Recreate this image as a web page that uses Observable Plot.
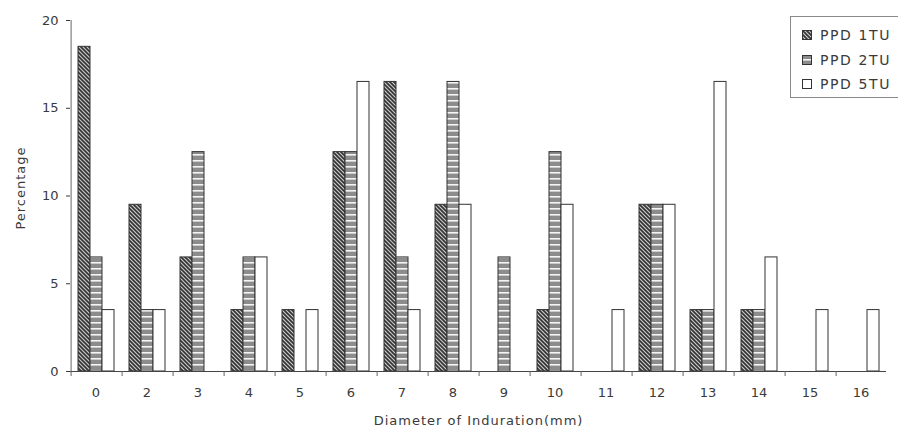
<!DOCTYPE html>
<html><head><meta charset="utf-8">
<script src="https://cdn.jsdelivr.net/npm/d3@7"></script>
<script src="https://cdn.jsdelivr.net/npm/@observablehq/plot@0.6"></script>
<style>
body{margin:0;background:#fff;font-family:"DejaVu Sans",Arial,sans-serif}
#wrap{position:relative;width:898px;height:431px;overflow:hidden}
#legend{position:absolute;left:790px;top:16px;width:130px;height:80px;border:1px solid #8a8a8a;background:#fff;color:#3a3a3a;font-size:14px;letter-spacing:1.6px}
.row{position:absolute;left:11px;height:16px;line-height:16px;white-space:nowrap}
.row svg{vertical-align:middle;margin-right:8px;position:relative;top:-1px}
</style></head><body>
<div id="wrap"></div>
<script>
const categories = ["0","2","3","4","5","6","7","8","9","10","11","12","13","14","15","16"];
const seriesNames = ["PPD 1TU","PPD 2TU","PPD 5TU"];
const ppd1TU = [18.5, 9.5, 6.5, 3.5, 3.5, 12.5, 16.5, 9.5, 0, 3.5, 0, 9.5, 3.5, 3.5, 0, 0];
const ppd2TU = [6.5, 3.5, 12.5, 6.5, 0, 12.5, 6.5, 16.5, 6.5, 12.5, 0, 9.5, 3.5, 3.5, 0, 0];
const ppd5TU = [3.5, 3.5, 0, 6.5, 3.5, 16.5, 3.5, 9.5, 0, 9.5, 3.5, 9.5, 16.5, 6.5, 3.5, 3.5];
const yTicks = [0, 5, 10, 15, 20];

const seriesValues = [ppd1TU, ppd2TU, ppd5TU];
const fills = ["url(#pat1)", "url(#pat2)", "#ffffff"];
const data = categories.flatMap((c, i) => seriesNames.map((s, k) => ({cat: c, series: s, value: seriesValues[k][i]})));

const barMarks = seriesNames.map((s, k) =>
  Plot.barY(data.filter(d => d.series === s), {fx: "cat", x: "series", y: "value", fill: fills[k], stroke: "#333", strokeWidth: 1})
);

const chart = Plot.plot({
  width: 898, height: 431,
  marginLeft: 68, marginRight: 10, marginTop: 20, marginBottom: 60,
  style: {fontFamily: '"DejaVu Sans", Arial, sans-serif', fontSize: "13px", color: "#3a3a3a", background: "#fff"},
  fx: {domain: categories, padding: 0, label: "Diameter of Induration(mm)", labelAnchor: "center", labelOffset: 53, tickSize: 0, tickPadding: 16},
  x: {domain: seriesNames, axis: null, paddingInner: 0, paddingOuter: 0.6},
  y: {domain: [0, 20], ticks: yTicks, label: "Percentage", labelArrow: "none", labelAnchor: "center", labelOffset: 55, tickSize: 4, tickPadding: 8},
  marks: [
    ...barMarks,
    Plot.ruleY([0], {stroke: "#444"}),
    Plot.ruleX(categories, {fx: d => d, x: () => seriesNames[0], y1: 0, y2: 0, insetTop: 0, insetBottom: -5, dx: -13.4, stroke: "#666"}),
    Plot.ruleX([categories[0]], {fx: d => d, x: () => seriesNames[0], y1: 0, y2: 20, dx: -13.4, stroke: "#666"})
  ]
});

const svg = d3.select(chart);
svg.selectAll('[aria-label="fx-axis label"] text, [aria-label="y-axis label"] text').style("letter-spacing", "1px");
const yl = svg.select('[aria-label="y-axis label"]');
if (!yl.empty()) yl.attr("transform", (yl.attr("transform") || "") + " translate(0,-8)");

const defs = svg.insert("defs", ":first-child");
const p1 = defs.append("pattern").attr("id", "pat1").attr("patternUnits", "userSpaceOnUse").attr("width", 4).attr("height", 4);
p1.append("rect").attr("width", 4).attr("height", 4).attr("fill", "#c8c8c8");
p1.append("path").attr("d", "M-1,-1L5,5M-1,3L1,5M3,-1L5,1").attr("stroke", "#333").attr("stroke-width", 1.6);
const p2 = defs.append("pattern").attr("id", "pat2").attr("patternUnits", "userSpaceOnUse").attr("width", 6).attr("height", 6);
p2.append("rect").attr("width", 6).attr("height", 6).attr("fill", "#8c8c8c");
p2.append("rect").attr("y", 4).attr("width", 6).attr("height", 1.6).attr("fill", "#f4f4f4");

const wrap = document.getElementById("wrap");
wrap.appendChild(chart);

const legend = document.createElement("div");
legend.id = "legend";
seriesNames.forEach((s, k) => {
  const row = document.createElement("div");
  row.className = "row";
  row.style.top = (10 + k * 24.5) + "px";
  row.innerHTML = `<svg width="10" height="10"><rect x="0.5" y="0.5" width="9" height="9" fill="${fills[k]}" stroke="#333"/></svg>${s}`;
  legend.appendChild(row);
});
wrap.appendChild(legend);
</script>
</body></html>
